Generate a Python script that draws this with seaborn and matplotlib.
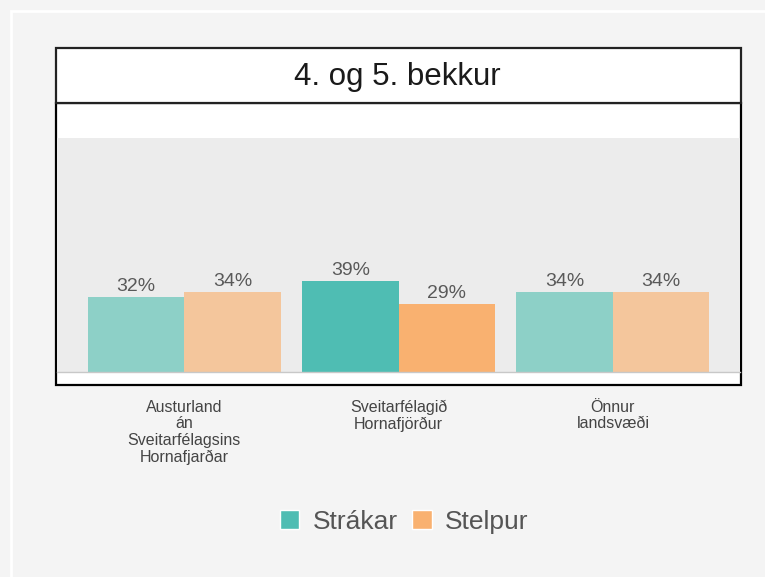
import pandas as pd
import matplotlib.pyplot as plt
import matplotlib.patches as mpatches
import seaborn as sns

# chart data
regions = ["Austurland\nán\nSveitarfélagsins\nHornafjarðar",
           "Sveitarfélagið\nHornafjörður",
           "Önnur\nlandsvæði"]
groups = ["Strákar", "Stelpur"]
boys = [32, 39, 34]
girls = [34, 29, 34]
title = "4. og 5. bekkur"

W, H = 765, 577
TEAL, ORANGE = "#4fbdb3", "#f9b170"
TEAL_LIGHT, ORANGE_LIGHT = "#8dd0c7", "#f4c69c"
highlight = 1  # index of the highlighted region


def fx(x):
    return x / W


def fy(y):
    return 1 - y / H


sns.set_theme(style="white")
plt.rcParams["font.family"] = ["Liberation Sans", "DejaVu Sans"]

fig = plt.figure(figsize=(W / 100, H / 100), dpi=100, facecolor="#f4f4f4")

# white outer frame line
fig.patches.append(mpatches.Rectangle((fx(11), fy(600)), fx(800), fy(11) - fy(600),
                                      transform=fig.transFigure, facecolor="none",
                                      edgecolor="white", lw=2, zorder=-5))
# plot box and title box
fig.patches.append(mpatches.Rectangle((fx(56), fy(385)), fx(741) - fx(56), fy(103) - fy(385),
                                      transform=fig.transFigure, facecolor="white",
                                      edgecolor="black", lw=1.6, zorder=-4))
fig.patches.append(mpatches.Rectangle((fx(56), fy(103)), fx(741) - fx(56), fy(48) - fy(103),
                                      transform=fig.transFigure, facecolor="white",
                                      edgecolor="#222222", lw=1.6, zorder=-4))
fig.text(fx(397), fy(77), title, ha="center", va="center", fontsize=22.5, color="#1a1a1a")

ax = fig.add_axes([fx(57), fy(372), fx(740) - fx(57), fy(138) - fy(372)])
ax.set_facecolor("#ececec")

df = pd.DataFrame({
    "region": regions * 2,
    "kyn": [groups[0]] * len(regions) + [groups[1]] * len(regions),
    "hlutfall": boys + girls,
})
sns.barplot(data=df, x="region", y="hlutfall", hue="kyn", hue_order=groups,
            palette={groups[0]: TEAL, groups[1]: ORANGE}, width=0.9, gap=0,
            saturation=1, errorbar=None, legend=False, linewidth=0, ax=ax)

shades = [(TEAL_LIGHT, TEAL), (ORANGE_LIGHT, ORANGE)]
for cont, (light, dark), vals in zip(ax.containers, shades, [boys, girls]):
    for i, bar in enumerate(cont):
        bar.set_facecolor(dark if i == highlight else light)
        bar.set_edgecolor("none")
    ax.bar_label(cont, labels=[f"{v}%" for v in vals], padding=1.5,
                 fontsize=14, color="#595959")

ax.set_ylim(0, 100)
ax.set_xlim(-0.593, 2.593)
ax.set_xlabel("")
ax.set_ylabel("")
ax.set_yticks([])
for side in ["top", "left", "right"]:
    ax.spines[side].set_visible(False)
ax.spines["bottom"].set_color("#c8c8c8")
ax.spines["bottom"].set_linewidth(1)
ax.tick_params(axis="x", length=0, pad=20, labelsize=11.5, labelcolor="#444444")
for lab in ax.get_xticklabels():
    lab.set_linespacing(1.13)

handles = [mpatches.Patch(facecolor=TEAL, label=groups[0]),
           mpatches.Patch(facecolor=ORANGE, label=groups[1])]
fig.legend(handles=handles, loc="center", bbox_to_anchor=(fx(404), fy(522)), ncol=2,
           frameon=False, fontsize=19, handlelength=0.74, handleheight=0.74,
           handletextpad=0.5, columnspacing=0.55, labelcolor="#555555")

fig.savefig("out.png", dpi=100, facecolor=fig.get_facecolor())
